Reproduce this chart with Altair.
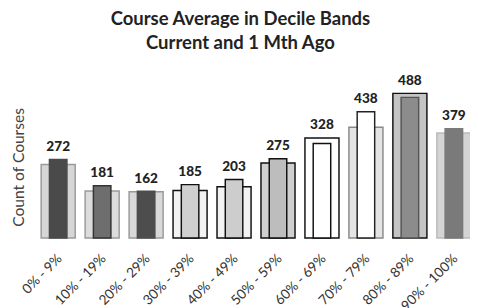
import altair as alt
import pandas as pd

bands = ["0% - 9%", "10% - 19%", "20% - 29%", "30% - 39%", "40% - 49%",
         "50% - 59%", "60% - 69%", "70% - 79%", "80% - 89%", "90% - 100%"]
current = [272, 181, 162, 185, 203, 275, 328, 438, 488, 379]
month_ago = [255, 163, 160, 165, 178, 260, 347, 384, 502, 364]

# styles (kept apart from data)
wide_fill = ["#d6d6d6", "#dcdcdc", "#d9d9d9", "#f2f2f2", "#f2f2f2",
             "#cfcfcf", "#ffffff", "#e4e4e4", "#c4c4c4", "#d4d4d4"]
wide_stroke = ["#9a9a9a", "#9a9a9a", "#9a9a9a", "#111111", "#111111",
               "#111111", "#111111", "#8a8a8a", "#111111", "#bbbbbb"]
narrow_fill = ["#4a4a4a", "#6e6e6e", "#4d4d4d", "#cfcfcf", "#cdcdcd",
               "#bdbdbd", "#ffffff", "#ffffff", "#8c8c8c", "#7a7a7a"]
narrow_stroke = ["#4a4a4a", "#333333", "#4d4d4d", "#111111", "#111111",
                 "#111111", "#111111", "#222222", "#555555", "#7a7a7a"]

df = pd.DataFrame({"band": bands, "current": current, "prior": month_ago})
df["top"] = df[["current", "prior"]].max(axis=1)

FONT = "Lato"

x = alt.X("band:N", sort=bands, title=None,
          scale=alt.Scale(paddingInner=0, paddingOuter=0),
          axis=alt.Axis(labelAngle=-45, labelFontSize=14, labelColor="#333333",
                        labelFont=FONT, ticks=False, domain=False,
                        labelPadding=14, labelOffset=-3))

ydom = alt.Scale(domain=[0, 510])
yaxis = alt.Axis(labels=False, ticks=False, domain=False, grid=False,
                 title="Count of Courses", titleFontSize=16,
                 titleFont=FONT, titleFontWeight="normal",
                 titleColor="#444444", titleX=-10, titleY=78)

wide = alt.Chart(df).mark_bar(size=35, strokeWidth=1.5).encode(
    x=x,
    y=alt.Y("prior:Q", scale=ydom, axis=yaxis, title="Count of Courses"),
    fill=alt.Fill("band:N", sort=bands, legend=None,
                  scale=alt.Scale(domain=bands, range=wide_fill)),
    stroke=alt.Stroke("band:N", sort=bands, legend=None,
                      scale=alt.Scale(domain=bands, range=wide_stroke)),
)

narrow = alt.Chart(df).mark_bar(size=18, strokeWidth=1.5).encode(
    x=x,
    y=alt.Y("current:Q", scale=ydom, axis=yaxis, title="Count of Courses"),
    fill=alt.Fill("band:N", sort=bands, legend=None,
                  scale=alt.Scale(domain=bands, range=narrow_fill)),
    stroke=alt.Stroke("band:N", sort=bands, legend=None,
                      scale=alt.Scale(domain=bands, range=narrow_stroke)),
)

labels = alt.Chart(df).mark_text(baseline="bottom", dy=-6, fontSize=14,
                                 fontWeight=900, font=FONT,
                                 color="#222222").encode(
    x=x,
    y=alt.Y("top:Q", scale=ydom, axis=yaxis, title="Count of Courses"),
    text=alt.Text("current:Q"),
)

chart = alt.layer(wide, narrow, labels).resolve_scale(
    fill="independent", stroke="independent"
).properties(
    width=452, height=151,
    padding={"left": 2, "top": -2, "right": -6, "bottom": 2},
    background="white",
    title=alt.TitleParams(["Course Average in Decile Bands", "Current and 1 Mth Ago"],
                          fontSize=19, font=FONT, fontWeight="bold",
                          color="#222222", lineHeight=24, offset=22,
                          anchor="middle", dx=-16),
).configure_view(stroke=None)

chart.save("out.html", embed_options={"renderer": "svg", "actions": False})
